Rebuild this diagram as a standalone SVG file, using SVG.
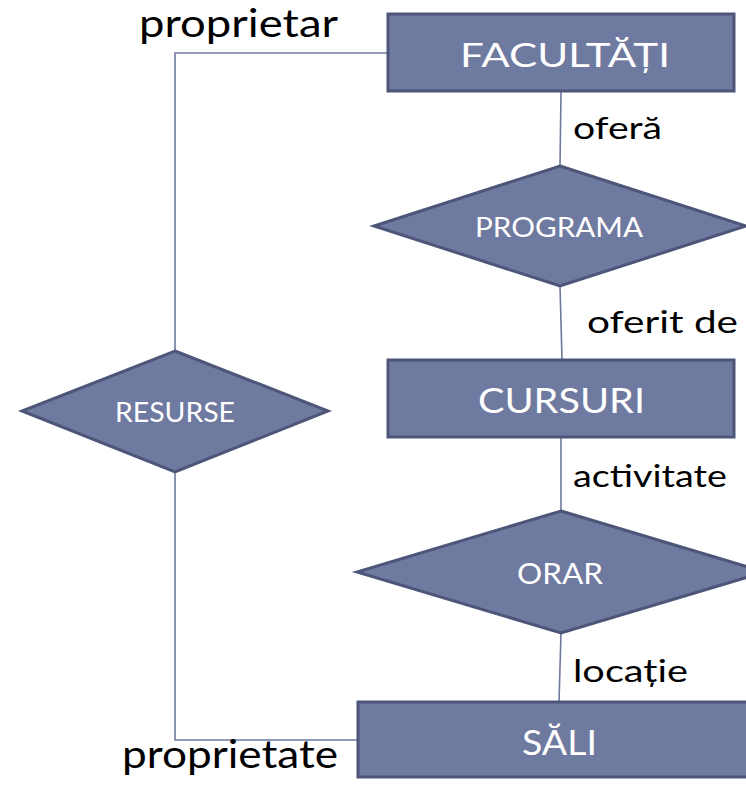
<svg xmlns="http://www.w3.org/2000/svg" width="746" height="785" viewBox="0 0 746 785">
<style>
.ent{fill:#6f7aa0;stroke:#4d5578;stroke-width:3}
.rel{fill:#6f7aa0;stroke:#4d5578;stroke-width:3;stroke-linejoin:miter}
.conn{fill:none;stroke:#6f79a0;stroke-width:1.6}
.nt{font-family:Lato,"Open Sans","Liberation Sans",sans-serif;fill:#ffffff;text-anchor:middle}
.et{font-family:Lato,"Open Sans","Liberation Sans",sans-serif;fill:#000000}
</style>
<rect width="746" height="785" fill="#ffffff"/>
<g id="connectors">
<line class="conn" x1="561" y1="91" x2="560" y2="166"/>
<line class="conn" x1="560" y1="286" x2="562" y2="360"/>
<line class="conn" x1="561" y1="437" x2="561" y2="511"/>
<line class="conn" x1="561" y1="633" x2="559" y2="702"/>
<polyline class="conn" points="388,53 175,53 175,351"/>
<polyline class="conn" points="175,472 175,740 358,740"/>
<text class="et" x="139" y="37" font-size="38" textLength="199" lengthAdjust="spacingAndGlyphs">proprietar</text>
<text class="et" x="122" y="768" font-size="38" textLength="216" lengthAdjust="spacingAndGlyphs">proprietate</text>
<text class="et" x="573" y="139" font-size="31" textLength="89" lengthAdjust="spacingAndGlyphs">oferă</text>
<text class="et" x="587" y="333" font-size="30" textLength="151" lengthAdjust="spacingAndGlyphs">oferit de</text>
<text class="et" x="573" y="487" font-size="30" textLength="154" lengthAdjust="spacingAndGlyphs">activitate</text>
<text class="et" x="573" y="682" font-size="30" textLength="115" lengthAdjust="spacingAndGlyphs">locație</text>
</g>
<g id="facultati">
<rect class="ent" x="388" y="14" width="346" height="77"/>
<text class="nt" x="565" y="67" font-size="32" textLength="210" lengthAdjust="spacingAndGlyphs">FACULTĂȚI</text>
</g>
<g id="programa">
<polygon class="rel" points="560,166 746,226 560,286 374,226"/>
<text class="nt" x="559" y="237" font-size="27" textLength="168" lengthAdjust="spacingAndGlyphs">PROGRAMA</text>
</g>
<g id="cursuri">
<rect class="ent" x="388" y="360" width="346" height="77"/>
<text class="nt" x="561.5" y="413" font-size="35" textLength="167" lengthAdjust="spacingAndGlyphs">CURSURI</text>
</g>
<g id="orar">
<polygon class="rel" points="561,511 765,572 561,633 357,572"/>
<text class="nt" x="560" y="584" font-size="28" textLength="86" lengthAdjust="spacingAndGlyphs">ORAR</text>
</g>
<g id="sali">
<rect class="ent" x="358" y="702" width="406" height="75"/>
<text class="nt" x="559.5" y="755" font-size="35" textLength="75" lengthAdjust="spacingAndGlyphs">SĂLI</text>
</g>
<g id="resurse">
<polygon class="rel" points="175,351 328,411 175,472 22,411"/>
<text class="nt" x="175" y="422" font-size="27" textLength="120" lengthAdjust="spacingAndGlyphs">RESURSE</text>
</g>
</svg>
